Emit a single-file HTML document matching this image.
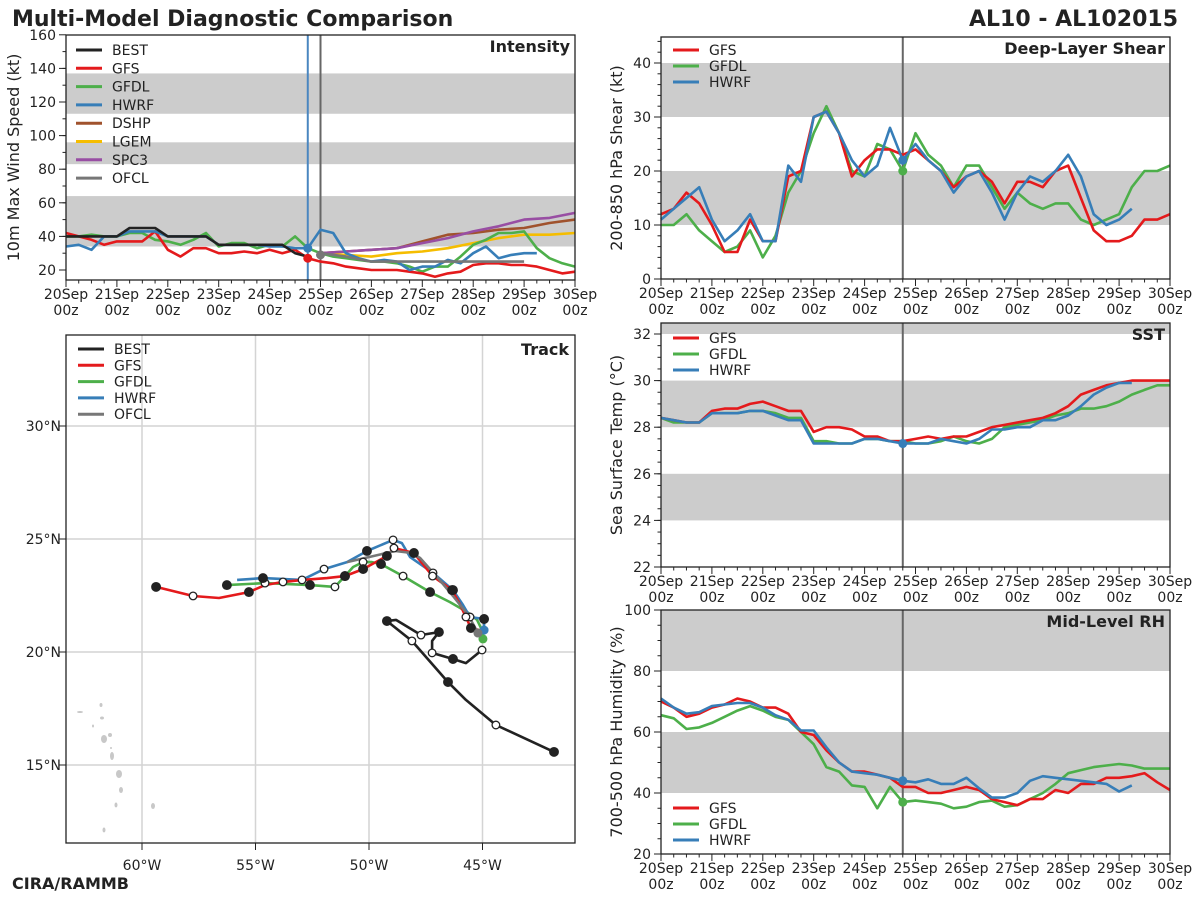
<!DOCTYPE html>
<html><head><meta charset="utf-8"><style>
body{margin:0;background:#fff;}
svg{display:block;font-family:"DejaVu Sans","Liberation Sans",sans-serif;}
</style></head><body>
<svg id="c" width="1200" height="900" viewBox="0 0 1200 900" xmlns="http://www.w3.org/2000/svg">
<text x="12" y="26" font-size="22" font-weight="bold" fill="#222">Multi-Model Diagnostic Comparison</text>
<text x="1178" y="26" font-size="22" font-weight="bold" fill="#222" text-anchor="end">AL10 - AL102015</text>
<text x="12" y="889" font-size="16" font-weight="bold" fill="#222">CIRA/RAMMB</text>
</svg>
<script>
// ---------- DATA ----------
const dayLabels=["20Sep","21Sep","22Sep","23Sep","24Sep","25Sep","26Sep","27Sep","28Sep","29Sep","30Sep"];
const intTicks=[20,40,60,80,100,120,140,160];
const intBest=[40,40,40,40,40,45,45,45,40,40,40,40,35,35,35,35,35,35,30,28];
const intGFS=[42,40,38,35,37,37,37,43,32,28,33,33,30,30,31,30,32,30,32,27,25,24,22,21,20,20,20,19,18,16,18,19,23,24,24,23,23,22,20,18,19];
const intGFDL=[40,40,41,40,40,42,42,38,37,35,38,42,34,36,36,33,35,34,40,33,30,28,27,26,25,25,24,22,19,22,22,28,35,38,42,42,43,33,27,24,22];
const intHWRF=[34,35,32,40,40,43,43,43,40,40,40,40,35,35,35,35,34,34,33,33,44,42,30,27,25,26,25,20,22,22,26,24,30,34,27,29,30,30];
const intDSHP=[30,31,32,33,37,41,42,44,45,48,50];
const intLGEM=[30,29,28,30,31,33,36,39,41,41,42];
const intSPC3=[30,31,32,33,36,39,43,46,50,51,54];
const intOFCL=[30,28,25,25,25,25,25,25,25];
const shrTicks=[0,10,20,30,40];
const shrGFS=[12,13,16,14,10,5,5,11,7,7,19,20,30,31,27,19,22,24,24,23,24,22,20,17,19,20,18,14,18,18,17,20,21,15,9,7,7,8,11,11,12];
const shrGFDL=[10,10,12,9,7,5,6,9,4,8,16,20,27,32,27,20,19,25,24,20,27,23,21,17,21,21,17,13,16,14,13,14,14,11,10,11,12,17,20,20,21];
const shrHWRF=[11,13,15,17,11,7,9,12,7,7,21,18,30,31,27,22,19,21,28,22,25,22,20,16,19,20,16,11,16,19,18,20,23,19,12,10,11,13];
const sstTicks=[22,24,26,28,30,32];
const sstGFS=[28.4,28.3,28.2,28.2,28.7,28.8,28.8,29.0,29.1,28.9,28.7,28.7,27.8,28.0,28.0,27.9,27.6,27.6,27.4,27.4,27.5,27.6,27.5,27.6,27.6,27.8,28.0,28.1,28.2,28.3,28.4,28.6,28.9,29.4,29.6,29.8,29.9,30.0,30.0,30.0,30.0];
const sstGFDL=[28.4,28.2,28.2,28.2,28.6,28.6,28.6,28.7,28.7,28.6,28.4,28.4,27.4,27.4,27.3,27.3,27.5,27.5,27.4,27.4,27.3,27.3,27.4,27.6,27.4,27.3,27.5,28.0,28.1,28.2,28.3,28.5,28.6,28.8,28.8,28.9,29.1,29.4,29.6,29.8,29.8];
const sstHWRF=[28.4,28.3,28.2,28.2,28.6,28.6,28.6,28.7,28.7,28.5,28.3,28.3,27.3,27.3,27.3,27.3,27.5,27.5,27.4,27.3,27.3,27.3,27.5,27.4,27.3,27.5,27.9,27.9,28.0,28.0,28.3,28.3,28.5,28.9,29.4,29.7,29.9,29.9];
const rhTicks=[20,40,60,80,100];
const rhGFS=[70,68,65,66,68,69,71,70,68,68,66,60,59,54,50,47,47,46,45,42,42,40,40,41,42,41,38,37,36,38,38,41,40,43,43,45,45,45.5,46.5,43.5,41];
const rhGFDL=[65.5,64.5,61,61.5,63,65,67,68.5,67,65,64,60,56,48.5,47,42.5,42,35,42,37,37.5,37,36.5,35,35.5,37,37.5,35.5,36,38,40,43,46.5,47.5,48.5,49,49.5,49,48,48,48];
const rhHWRF=[71,68,66,66.5,68.5,69,69.5,69.5,68,65.5,64,60.5,60.5,55,50,47,46.5,46,45,44,43.5,44.5,43,43,45,41.5,38.5,38.5,40,44,45.5,45,44.5,44,43.5,43,40.5,42.5];
const lonTicks=[-60,-55,-50,-45];
const latTicks=[15,20,25,30];
const trkBestLon=[-41.85,-44.41,-45.73,-46.52,-48.11,-49.21,-48.81,-47.71,-46.92,-47.22,-47.22,-46.30,-45.73,-45.02];
const trkBestLat=[15.58,16.77,17.88,18.67,20.49,21.37,21.42,20.75,20.88,20.49,19.96,19.69,19.51,20.09];
const trkBestMk=["f","o","","f","o","f","","o","f","","o","f","","o"];
const trkGFSLon=[-44.98,-45.51,-45.73,-46.0,-46.34,-47.2,-48.02,-48.9,-49.21,-50.26,-51.06,-51.85,-52.91,-53.79,-54.58,-55.29,-56.61,-57.75,-59.38];
const trkGFSLat=[20.93,21.06,21.55,22.12,22.74,23.36,24.38,24.6,24.25,23.67,23.36,23.27,23.19,23.1,22.96,22.65,22.39,22.48,22.88];
const trkGFSMk=["","f","o","","f","o","f","o","f","f","f","","","o","","f","","o","f"];
const trkGFDLLon=[-44.98,-45.02,-45.24,-45.68,-46.43,-47.31,-48.5,-49.47,-49.87,-50.26,-50.7,-51.06,-51.5,-52.6,-54.58,-56.26];
const trkGFDLLat=[20.58,20.97,21.42,21.77,22.21,22.65,23.36,23.89,23.98,23.98,23.76,23.36,22.88,22.96,23.05,22.96];
const trkGFDLMk=["","","","","","f","o","f","","o","","f","o","f","o","f"];
const trkHWRFLon=[-44.93,-44.93,-45.55,-45.86,-46.3,-47.18,-48.19,-48.55,-48.94,-50.09,-50.97,-51.98,-52.95,-54.67,-55.81];
const trkHWRFLat=[20.97,21.46,21.55,22.08,22.74,23.5,24.2,24.82,24.96,24.47,23.98,23.67,23.19,23.27,23.19];
const trkHWRFMk=["","f","o","","f","o","","","o","f","","o","o","f",""];
const trkOFCLLon=[-45.2,-45.64,-46.3,-46.96,-47.75,-48.11,-48.85,-50.97];
const trkOFCLLat=[20.84,21.64,22.48,23.27,24.16,24.38,24.47,23.98];

// ---------- HELPERS ----------
const NS="http://www.w3.org/2000/svg";
const svg=document.getElementById('c');
function mk(tag,attrs,parent){const e=document.createElementNS(NS,tag);for(const k in attrs)e.setAttribute(k,attrs[k]);(parent||svg).appendChild(e);return e;}
const COL={BEST:"#222222",GFS:"#e41a1c",GFDL:"#4daf4a",HWRF:"#377eb8",DSHP:"#a0522d",LGEM:"#f5bd00",SPC3:"#984ea3",OFCL:"#777777"};
const GRID="#cccccc";

function panel(o){
  const g=mk('g',{});
  
  
  const xs=d=>o.x0+(o.x1-o.x0)*d/10;
  const ys=v=>o.yb-(v-o.vb)*o.k;
  // bands
  o.bands.forEach(b=>{
    const top=Math.max(ys(b[1]),o.y0);
    const r=mk('rect',{x:o.x0,y:top,width:o.x1-o.x0,height:ys(b[0])-top,fill:GRID},g);
    
    
  });
  // x ticks
  for(let i=0;i<=40;i++){
    const x=xs(i/4);const big=i%4==0;
    mk('line',{x1:x,x2:x,y1:o.y1,y2:o.y1+(big?7:3.5),stroke:"#222","stroke-width":1},g);
  }
  dayLabels.forEach((l,i)=>{
    const t=mk('text',{x:xs(i),y:o.y1+19,"font-size":14,"text-anchor":"middle",fill:"#222"},g);t.textContent=l;
    
    
    const t2=mk('text',{x:xs(i),y:o.y1+35,"font-size":14,"text-anchor":"middle",fill:"#222"},g);t2.textContent="00z";
    
    
  });
  // y ticks
  o.ticks.forEach(v=>{
    const y=ys(v);
    mk('line',{x1:o.x0-7,x2:o.x0,y1:y,y2:y,stroke:"#222"},g);
    const t=mk('text',{x:o.x0-10,y:y+5,"font-size":14,"text-anchor":"end",fill:"#222"},g);t.textContent=v;
    
    
  });
  for(let v=o.ticks[0];v<=o.ticks[o.ticks.length-1]+o.minor*3;v+=o.minor){
    const y=ys(v);if(y<o.y0||y>o.y1)continue;
    mk('line',{x1:o.x0-3.5,x2:o.x0,y1:y,y2:y,stroke:"#222"},g);
  }
  const yl=mk('text',{x:0,y:0,"font-size":16,"text-anchor":"middle",fill:"#222",transform:`translate(${o.ylx},${(o.y0+o.y1)/2}) rotate(-90)`},g);
  yl.textContent=o.ylabel;
  
  
  const tt=mk('text',{x:o.x1-5,y:o.y0+17,"font-size":16,"font-weight":"bold","text-anchor":"end",fill:"#222"},g);
  tt.textContent=o.title;
  
  
  return {g,xs,ys};
}
function series(p,arr,start,step,color,name){
  const pts=arr.map((v,i)=>p.xs(start+i*step).toFixed(1)+","+p.ys(v).toFixed(1)).join(" ");
  const l=mk('polyline',{points:pts,fill:"none",stroke:color,"stroke-width":2.6,"stroke-linejoin":"round"},p.g);
  
  
}
function vline(p,d,color,o){const x=p.xs(d);mk('line',{x1:x,x2:x,y1:o.y0,y2:o.y1,stroke:color,"stroke-width":2},p.g);}
function dot(p,d,v,color){const c=mk('circle',{cx:p.xs(d),cy:p.ys(v),r:4.5,fill:color},p.g);
  
  }
function frame(p,o){mk('rect',{x:o.x0,y:o.y0,width:o.x1-o.x0,height:o.y1-o.y0,fill:"none",stroke:"#222","stroke-width":1.3},p.g);}
function legend(g,x,y,names,dy){
  names.forEach((n,i)=>{
    const yy=y+i*dy;
    const ln=mk('line',{x1:x,x2:x+26,y1:yy,y2:yy,stroke:COL[n],"stroke-width":3},g);
    
    
    const t=mk('text',{x:x+36,y:yy+5,"font-size":14,fill:"#222"},g);t.textContent=n;
    
    
  });
}

// ---------- INTENSITY ----------
const oI={name:"intensity-panel",x0:66,x1:575,y0:35,y1:280,vb:20,yb:270,k:1.68,ticks:intTicks,minor:10,bands:[[34,64],[83,96],[113,137]],ylabel:"10m Max Wind Speed (kt)",ylx:19,title:"Intensity"};
const pI=panel(oI);
vline(pI,4.75,"#4a86c0",oI);vline(pI,5,"#666",oI);
series(pI,intDSHP,5,0.5,COL.DSHP,"dshp-line");
series(pI,intLGEM,5,0.5,COL.LGEM,"lgem-line");
series(pI,intSPC3,5,0.5,COL.SPC3,"spc3-line");
series(pI,intGFDL,0,0.25,COL.GFDL,"gfdl-line");
series(pI,intGFS,0,0.25,COL.GFS,"gfs-line");
series(pI,intHWRF,0,0.25,COL.HWRF,"hwrf-line");
series(pI,intOFCL,5,0.5,COL.OFCL,"ofcl-line");
series(pI,intBest,0,0.25,COL.BEST,"best-line");
dot(pI,4.75,intHWRF[19],COL.HWRF);dot(pI,4.75,intGFS[19],COL.GFS);dot(pI,5,intOFCL[0]-1,COL.OFCL);
frame(pI,oI);
legend(pI.g,76,50,["BEST","GFS","GFDL","HWRF","DSHP","LGEM","SPC3","OFCL"],18.3);

// ---------- SHEAR ----------
const oS={name:"shear-panel",x0:661,x1:1170,y0:37,y1:279,vb:0,yb:279,k:5.4,ticks:shrTicks,minor:2,bands:[[10,20],[30,40]],ylabel:"200-850 hPa Shear (kt)",ylx:622,title:"Deep-Layer Shear"};
const pS=panel(oS);
vline(pS,4.75,"#666",oS);
series(pS,shrGFDL,0,0.25,COL.GFDL,"gfdl-shear-line");
series(pS,shrGFS,0,0.25,COL.GFS,"gfs-shear-line");
series(pS,shrHWRF,0,0.25,COL.HWRF,"hwrf-shear-line");
dot(pS,4.75,shrHWRF[19],COL.HWRF);dot(pS,4.75,shrGFDL[19],COL.GFDL);
frame(pS,oS);
legend(pS.g,673,50,["GFS","GFDL","HWRF"],16);

// ---------- SST ----------
const oT={name:"sst-panel",x0:661,x1:1170,y0:323,y1:567,vb:22,yb:567,k:23.3,ticks:sstTicks,minor:0.5,bands:[[24,26],[28,30],[32,33]],ylabel:"Sea Surface Temp (°C)",ylx:622,title:"SST"};
const pT=panel(oT);
vline(pT,4.75,"#666",oT);
series(pT,sstGFDL,0,0.25,COL.GFDL,"gfdl-sst-line");
series(pT,sstGFS,0,0.25,COL.GFS,"gfs-sst-line");
series(pT,sstHWRF,0,0.25,COL.HWRF,"hwrf-sst-line");
dot(pT,4.75,sstHWRF[19],COL.HWRF);
frame(pT,oT);
legend(pT.g,673,338,["GFS","GFDL","HWRF"],16);

// ---------- RH ----------
const oR={name:"rh-panel",x0:661,x1:1170,y0:610,y1:854,vb:20,yb:854,k:3.05,ticks:rhTicks,minor:5,bands:[[40,60],[80,100]],ylabel:"700-500 hPa Humidity (%)",ylx:622,title:"Mid-Level RH"};
const pR=panel(oR);
vline(pR,4.75,"#666",oR);
series(pR,rhGFDL,0,0.25,COL.GFDL,"gfdl-rh-line");
series(pR,rhGFS,0,0.25,COL.GFS,"gfs-rh-line");
series(pR,rhHWRF,0,0.25,COL.HWRF,"hwrf-rh-line");
dot(pR,4.75,rhHWRF[19],COL.HWRF);dot(pR,4.75,rhGFDL[19],COL.GFDL);
frame(pR,oR);
legend(pR.g,673,808,["GFS","GFDL","HWRF"],16);

// ---------- TRACK ----------
const tg=mk('g',{});


const TX0=66,TX1=575,TY0=335,TY1=843;
const lx=lon=>142+(lon+60)*22.7;
const ly=lat=>652-(lat-20)*22.6;
lonTicks.forEach(l=>{
  const x=lx(l);
  mk('line',{x1:x,x2:x,y1:TY0,y2:TY1,stroke:"#d4d4d4","stroke-width":1.5},tg);
  mk('line',{x1:x,x2:x,y1:TY1,y2:TY1+7,stroke:"#222"},tg);
  const t=mk('text',{x:x,y:TY1+27,"font-size":14,"text-anchor":"middle",fill:"#222"},tg);t.textContent=(-l)+"°W";
  
  
});
latTicks.forEach(l=>{
  const y=ly(l);
  mk('line',{x1:TX0,x2:TX1,y1:y,y2:y,stroke:"#d4d4d4","stroke-width":1.5},tg);
  mk('line',{x1:TX0-7,x2:TX0,y1:y,y2:y,stroke:"#222"},tg);
  const t=mk('text',{x:TX0-5,y:y+5,"font-size":14,"text-anchor":"end",fill:"#222"},tg);t.textContent=l+"°N";
  
  
});
// islands
[[80,712,3,1],[101,705,1.5,2],[102,718,2,1.5],[93,726,1,1.5],[104,739,3,4],[110,735,2,2],[111,748,1,1],[112,756,2,4],[119,774,3,4],[121,790,2,3],[116,805,1.5,2.5],[153,806,2,3],[104,830,1.5,2.5]].forEach(p=>{
  const e=mk('ellipse',{cx:p[0],cy:p[1],rx:p[2],ry:p[3],fill:"#c8c8c8"},tg);
  
  
});
function track(lons,lats,mks,color,name){
  const pts=lons.map((v,i)=>lx(v).toFixed(1)+","+ly(lats[i]).toFixed(1)).join(" ");
  const l=mk('polyline',{points:pts,fill:"none",stroke:color,"stroke-width":2.6,"stroke-linejoin":"round"},tg);
  
  
  return ()=>{ if(!mks)return; mks.forEach((m,i)=>{ if(!m)return;
    const c=mk('circle',{cx:lx(lons[i]),cy:ly(lats[i]),r:m=="f"?4.3:3.8,fill:m=="f"?"#222":"#fff",stroke:"#222","stroke-width":1.3},tg);
    
    
  });};
}
const m1=track(trkGFDLLon,trkGFDLLat,trkGFDLMk,COL.GFDL,"gfdl-track");
const m2=track(trkHWRFLon,trkHWRFLat,trkHWRFMk,COL.HWRF,"hwrf-track");
const m3=track(trkGFSLon,trkGFSLat,trkGFSMk,COL.GFS,"gfs-track");
const m4=track(trkOFCLLon,trkOFCLLat,null,COL.OFCL,"ofcl-track");
const m5=track(trkBestLon,trkBestLat,trkBestMk,COL.BEST,"best-track");
[m1,m2,m3,m5].forEach(f=>f());
[[trkGFDLLon[0],trkGFDLLat[0],COL.GFDL],[trkHWRFLon[0],trkHWRFLat[0],COL.HWRF],[trkOFCLLon[0],trkOFCLLat[0],COL.OFCL]].forEach(p=>{
  const c=mk('circle',{cx:lx(p[0]),cy:ly(p[1]),r:4.5,fill:p[2]},tg);
  
  
});
mk('rect',{x:TX0,y:TY0,width:TX1-TX0,height:TY1-TY0,fill:"none",stroke:"#222","stroke-width":1.3},tg);
const tt=mk('text',{x:TX1-6,y:TY0+20,"font-size":16,"font-weight":"bold","text-anchor":"end",fill:"#222"},tg);
tt.textContent="Track";


legend(tg,78,349,["BEST","GFS","GFDL","HWRF","OFCL"],16.3);
</script>
</body></html>
